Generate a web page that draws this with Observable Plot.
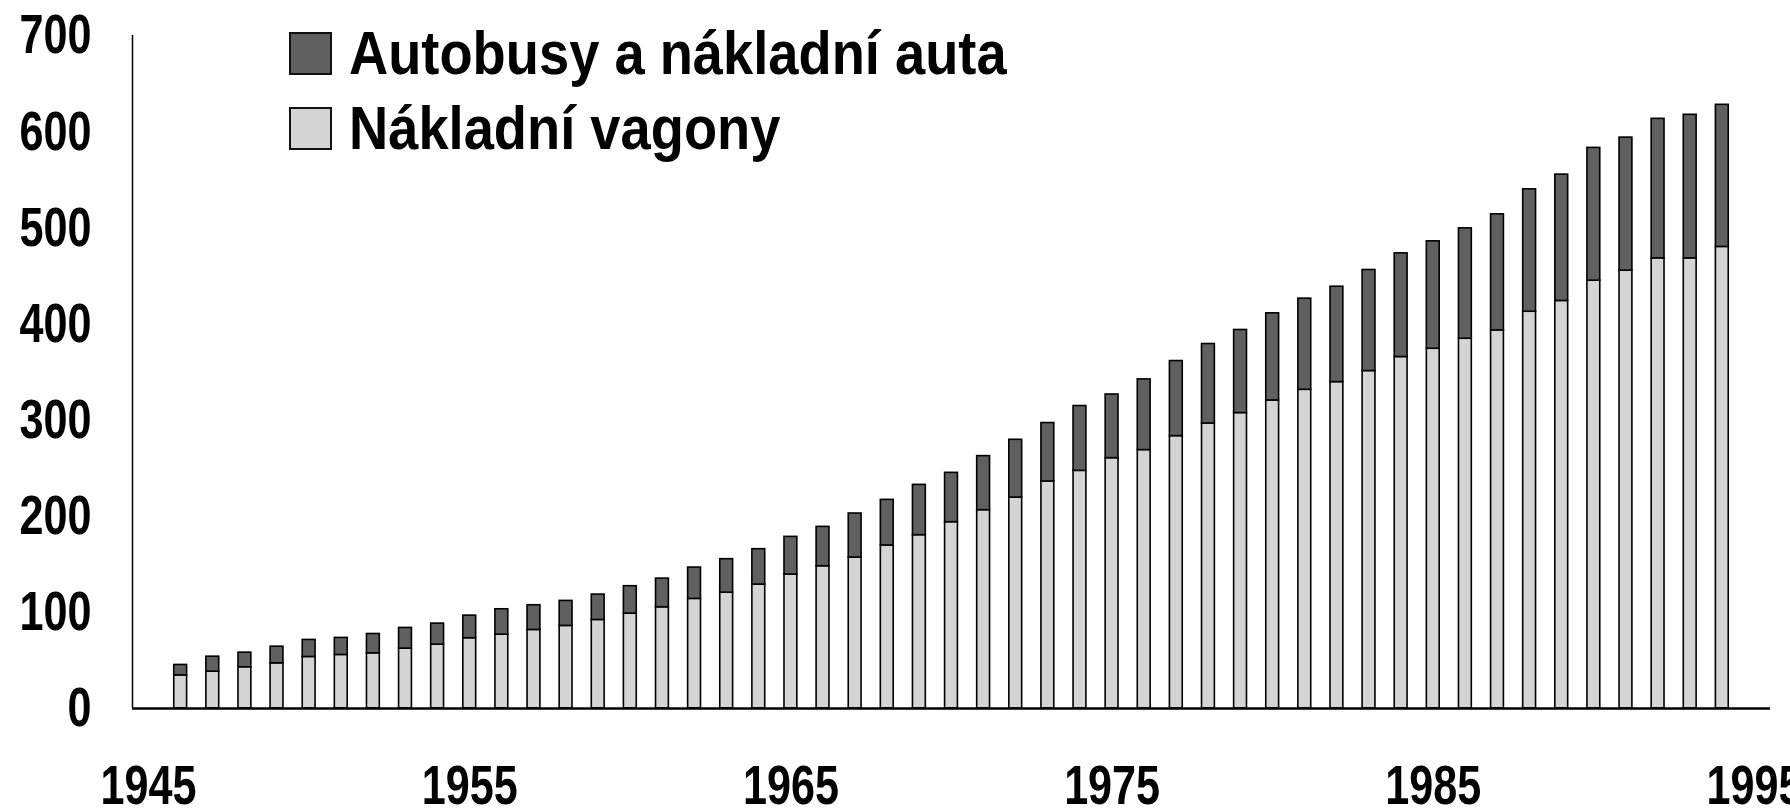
<!DOCTYPE html>
<html>
<head>
<meta charset="utf-8">
<script src="https://cdn.jsdelivr.net/npm/d3@7"></script>
<script src="https://cdn.jsdelivr.net/npm/@observablehq/plot@0.6"></script>
<style>
  html, body { margin: 0; padding: 0; background: #fff; }
  #wrap { position: relative; width: 1790px; height: 808px; overflow: hidden; }
  .lg-row { position: absolute; left: 289px; display: flex; align-items: center; white-space: nowrap; }
  .lg-sw { width: 39px; height: 39px; border: 2px solid #111; box-sizing: content-box; flex: none; }
  .lg-tx { display: inline-block; margin-left: 17px; font-family: "Liberation Sans Narrow", "Arial Narrow", "Liberation Sans", sans-serif; font-weight: bold; font-size: 61px; line-height: 61px; color: #000; transform: scaleX(0.89); transform-origin: left center; }
</style>
</head>
<body>
<div id="wrap"></div>
<script>
const years = [1946,1947,1948,1949,1950,1951,1952,1953,1954,1955,1956,1957,1958,1959,1960,1961,1962,1963,1964,1965,1966,1967,1968,1969,1970,1971,1972,1973,1974,1975,1976,1977,1978,1979,1980,1981,1982,1983,1984,1985,1986,1987,1988,1989,1990,1991,1992,1993,1994];
const vagony = [34.5,38.3,42.9,47.0,53.6,55.7,57.4,62.3,66.4,73.1,76.8,81.7,85.9,92.1,98.7,105.3,114.0,120.5,128.9,139.3,148.0,157.0,169.5,180.3,193.8,206.3,219.4,236.1,247.2,260.4,268.8,283.3,296.5,307.3,320.4,331.5,339.5,351.0,365.6,374.2,384.6,393.3,412.7,423.9,445.0,455.4,468.2,468.2,480.1];
const autobusy = [10.8,15.6,15.2,17.3,17.7,17.7,20.1,21.5,21.9,23.5,26.4,25.7,26.0,26.4,28.5,29.8,32.6,34.8,36.8,39.2,40.9,45.8,47.5,52.3,51.3,56.2,60.1,60.8,67.4,66.2,73.5,78.1,82.6,86.4,90.6,94.8,99.2,105.1,107.8,111.7,114.8,120.7,127.3,131.4,138.1,138.4,145.1,149.3,147.8];
const seriesNames = ["Nákladní vagony", "Autobusy a nákladní auta"];
const seriesColors = ["#d4d4d4", "#606060"];
const legendOrder = ["Autobusy a nákladní auta", "Nákladní vagony"];
const xTicks = [1945,1955,1965,1975,1985,1995];
const yTicks = [0,100,200,300,400,500,600,700];
const xDomain = [1944.5, 1995.5];
const yDomain = [0, 700];
const halfBar = 0.2;

// stacked table built from the series arrays
const rows = [];
years.forEach((yr, i) => {
  const a = vagony[i], b = autobusy[i];
  rows.push({year: yr, series: seriesNames[0], y1: 0, y2: a});
  rows.push({year: yr, series: seriesNames[1], y1: a, y2: a + b});
});

const font = '"Liberation Sans Narrow", "Arial Narrow", "Liberation Sans", sans-serif';

const chart = Plot.plot({
  width: 1790,
  height: 808,
  marginLeft: 132,
  marginRight: 20,
  marginTop: 35,
  marginBottom: 100,
  x: {domain: xDomain, label: null},
  y: {domain: yDomain, label: null},
  color: {domain: seriesNames, range: seriesColors},
  style: {fontFamily: font, fontWeight: "bold", background: "#fff", color: "#000", overflow: "visible"},
  marks: [
    Plot.rect(rows, {
      x1: d => d.year - halfBar,
      x2: d => d.year + halfBar,
      y1: "y1",
      y2: "y2",
      fill: "series",
      stroke: "#000",
      strokeWidth: 1.6
    }),
    Plot.ruleY([yDomain[0]], {stroke: "#000", strokeWidth: 2.5}),
    Plot.ruleX([xDomain[0]], {stroke: "#000", strokeWidth: 1.5}),
    Plot.axisX({ticks: xTicks, tickSize: 0, tickPadding: 56, fontSize: 56, tickFormat: d => String(d), label: null}),
    Plot.axisY({ticks: yTicks, tickSize: 0, tickPadding: 41, fontSize: 56, tickFormat: d => String(d), label: null})
  ]
});

const wrap = document.getElementById("wrap");
wrap.appendChild(chart);

// condense tick labels horizontally (narrow bold face look)
chart.querySelectorAll('g[aria-label$="tick label"] text').forEach(t => {
  const len = t.getComputedTextLength();
  if (len > 0) {
    t.setAttribute("textLength", (len * 0.77).toFixed(2));
    t.setAttribute("lengthAdjust", "spacingAndGlyphs");
  }
});

const colorOf = Object.fromEntries(seriesNames.map((n, i) => [n, seriesColors[i]]));
const tops = [23, 98];
legendOrder.forEach((name, i) => {
  const row = document.createElement("div");
  row.className = "lg-row";
  row.style.top = tops[i] + "px";
  const sw = document.createElement("div");
  sw.className = "lg-sw";
  sw.style.background = colorOf[name];
  const tx = document.createElement("span");
  tx.className = "lg-tx";
  tx.textContent = name;
  row.appendChild(sw);
  row.appendChild(tx);
  wrap.appendChild(row);
});
</script>
</body>
</html>
